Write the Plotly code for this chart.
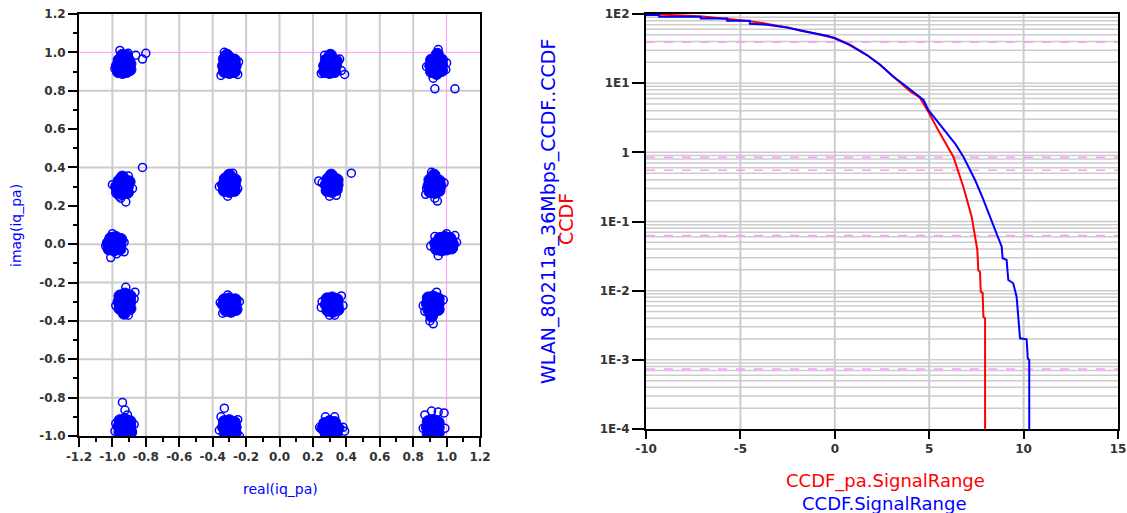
import numpy as np
import plotly.graph_objects as go

# ---------------- data: constellation (left) ----------------
# dense cluster cores (I, Q)
iq_core_i = [
    -0.965, -0.94, -0.915, -0.895, -0.97, -0.945, -0.92, -0.895, -0.96, -0.935, -0.905, -0.94, -0.915,
    -0.33, -0.30, -0.27, -0.335, -0.305, -0.265, -0.33, -0.30, -0.27, -0.315,
    0.27, 0.30, 0.33, 0.27, 0.30, 0.335, 0.28, 0.31, 0.34, 0.305,
    0.91, 0.94, 0.97, 0.905, 0.935, 0.97, 0.91, 0.94, 0.97, 0.945,
    -0.97, -0.94, -0.91, -0.975, -0.945, -0.91, -0.96, -0.93, -0.90, -0.94,
    -0.33, -0.30, -0.27, -0.335, -0.305, -0.27, -0.325, -0.295, -0.265, -0.30,
    0.285, 0.315, 0.34, 0.28, 0.31, 0.345, 0.29, 0.32, 0.345, 0.31,
    0.90, 0.93, 0.955, 0.895, 0.925, 0.96, 0.90, 0.93, 0.955, 0.925,
    -1.02, -0.99, -0.955, -1.025, -0.99, -0.955, -1.01, -0.98, -0.95,
    0.94, 0.97, 1.00, 1.03, 0.935, 0.965, 1.00, 1.035, 0.96, 0.99, 1.02,
    -0.955, -0.925, -0.895, -0.96, -0.93, -0.895, -0.955, -0.925, -0.895, -0.93,
    -0.33, -0.30, -0.265, -0.335, -0.30, -0.265, -0.32, -0.29, -0.26,
    0.285, 0.315, 0.345, 0.28, 0.31, 0.345, 0.29, 0.32, 0.35,
    0.89, 0.92, 0.95, 0.885, 0.915, 0.95, 0.895, 0.925, 0.95, 0.91,
    -0.955, -0.925, -0.895, -0.96, -0.93, -0.895, -0.955, -0.925, -0.89, -0.94,
    -0.33, -0.30, -0.27, -0.335, -0.30, -0.265, -0.325, -0.295, -0.265,
    0.27, 0.30, 0.33, 0.26, 0.29, 0.32, 0.35, 0.28, 0.31, 0.34,
    0.89, 0.92, 0.95, 0.885, 0.915, 0.95, 0.89, 0.92, 0.95,
]
iq_core_q = [
    0.90, 0.895, 0.90, 0.91, 0.93, 0.935, 0.93, 0.94, 0.96, 0.965, 0.96, 0.985, 0.98,
    0.90, 0.895, 0.90, 0.93, 0.935, 0.93, 0.965, 0.97, 0.96, 0.985,
    0.90, 0.895, 0.90, 0.93, 0.935, 0.93, 0.96, 0.965, 0.955, 0.985,
    0.90, 0.89, 0.905, 0.93, 0.935, 0.935, 0.96, 0.965, 0.96, 0.99,
    0.27, 0.265, 0.27, 0.30, 0.305, 0.30, 0.33, 0.335, 0.325, 0.35,
    0.28, 0.275, 0.28, 0.31, 0.315, 0.31, 0.34, 0.345, 0.335, 0.36,
    0.28, 0.275, 0.285, 0.31, 0.315, 0.31, 0.34, 0.345, 0.335, 0.36,
    0.275, 0.27, 0.28, 0.305, 0.31, 0.305, 0.335, 0.34, 0.33, 0.36,
    -0.025, -0.03, -0.025, 0.005, 0.0, 0.005, 0.03, 0.035, 0.025,
    -0.025, -0.03, -0.025, -0.02, 0.005, 0.0, 0.005, 0.0, 0.03, 0.035, 0.03,
    -0.27, -0.26, -0.27, -0.30, -0.305, -0.30, -0.335, -0.34, -0.335, -0.36,
    -0.29, -0.285, -0.29, -0.315, -0.32, -0.315, -0.345, -0.35, -0.34,
    -0.285, -0.28, -0.29, -0.315, -0.32, -0.315, -0.345, -0.35, -0.34,
    -0.28, -0.275, -0.285, -0.31, -0.315, -0.31, -0.345, -0.35, -0.34, -0.375,
    -0.92, -0.915, -0.925, -0.95, -0.955, -0.95, -0.98, -0.985, -0.98, -1.005,
    -0.925, -0.92, -0.93, -0.955, -0.96, -0.955, -0.985, -0.99, -0.985,
    -0.935, -0.925, -0.93, -0.96, -0.965, -0.96, -0.96, -0.99, -0.99, -0.985,
    -0.925, -0.92, -0.93, -0.955, -0.96, -0.955, -0.99, -0.99, -0.985,
]
# scattered outlying symbols (I, Q)
iq_out_i = [
    -0.955, -0.905, -0.82, -0.80, -0.86, -0.985,
    -0.35, -0.25, -0.245, -0.33,
    0.25, 0.37, 0.39, 0.36, 0.27,
    0.88, 0.95, 0.995, 0.92, 0.93, 1.05, 1.00,
    -1.00, -0.95, -0.92, -0.96, -0.88, -0.82, -0.905,
    -0.36, -0.25, -0.31, -0.28,
    0.255, 0.30, 0.34, 0.43, 0.235,
    0.88, 0.93, 0.945, 0.91, 0.985, 0.875,
    -1.04, -1.00, -0.93, -1.01, -0.975, -0.93,
    0.905, 1.06, 0.95, 1.00, 1.05, 0.93,
    -0.98, -0.92, -0.87, -0.865, -0.905,
    -0.355, -0.34, -0.24, -0.31,
    0.25, 0.255, 0.37, 0.30, 0.33, 0.38,
    0.86, 0.87, 0.90, 0.92, 0.98, 0.94,
    -0.94, -0.925, -0.98, -0.87, -0.91, -0.985,
    -0.33, -0.35, -0.25, -0.36, -0.24,
    0.24, 0.275, 0.38, 0.39, 0.33,
    0.87, 0.91, 0.95, 0.985, 0.86, 0.99,
]
iq_out_q = [
    1.01, 0.995, 0.965, 0.995, 0.985, 0.915,
    0.88, 0.885, 0.95, 1.00,
    0.89, 0.905, 0.885, 0.965, 0.985,
    0.925, 1.015, 0.91, 0.865, 0.81, 0.81, 0.945,
    0.31, 0.24, 0.22, 0.25, 0.29, 0.40, 0.355,
    0.30, 0.29, 0.25, 0.37,
    0.32, 0.25, 0.255, 0.37, 0.33,
    0.29, 0.24, 0.225, 0.375, 0.32, 0.26,
    -0.01, 0.055, -0.04, -0.07, -0.05, 0.01,
    -0.01, 0.01, -0.06, 0.055, 0.045, 0.04,
    -0.32, -0.225, -0.285, -0.25, -0.37,
    -0.305, -0.36, -0.30, -0.265,
    -0.33, -0.30, -0.27, -0.37, -0.37, -0.32,
    -0.32, -0.35, -0.40, -0.415, -0.29, -0.25,
    -0.825, -0.865, -0.935, -0.94, -0.89, -0.975,
    -0.855, -0.90, -0.915, -0.97, -1.00,
    -0.955, -0.90, -0.955, -0.975, -0.90,
    -0.89, -0.87, -0.875, -0.88, -0.96, -0.96,
]

# ---------------- data: CCDF (right) ----------------
ccdf_pa_range = [-10.0, -9.2, -8.0, -7.0, -5.6, -4.6, -3.7, -2.8, -1.8, -0.5, 0.0, 0.8, 1.7, 2.4,
                 3.1, 3.6, 4.0, 4.5, 4.95, 5.57, 6.28, 6.81, 7.25, 7.52, 7.55, 7.60, 7.69, 7.73,
                 7.83, 7.87, 7.96, 7.96]
ccdf_pa = [100, 98.5, 95, 92, 85, 79, 73, 66, 58.5, 48, 45, 36, 25.5, 18.5,
           12.4, 9.6, 7.6, 6.2, 3.87, 1.88, 0.864, 0.316, 0.1175, 0.0432, 0.0387, 0.0197, 0.0187, 0.0097,
           0.0093, 0.0042, 0.0040, 0.0001]
ccdf_range = [-10.0, -9.3, -9.3, -7.1, -7.1, -5.7, -5.7, -4.5, -4.5, -3.6, -2.5, -1.8, -0.4, 0.0,
              0.8, 1.7, 2.4, 3.1, 3.6, 4.0, 4.7, 4.95, 5.4, 5.93, 6.4, 6.81, 7.43, 7.8, 8.22, 8.55,
              8.84, 8.89, 9.10, 9.19, 9.45, 9.63, 9.72, 9.81, 10.16, 10.22, 10.30, 10.30]
ccdf = [96.7, 96.7, 91.5, 91.5, 86, 86, 80, 80, 72, 70, 64, 57.4, 48.5, 44.6,
        35.5, 25.5, 18.5, 12.4, 9.8, 7.96, 5.71, 4.10, 2.9, 1.88, 1.3, 0.864, 0.398, 0.23, 0.1175, 0.07,
        0.0432, 0.0294, 0.0278, 0.01427, 0.0128, 0.00818, 0.0042, 0.00205, 0.00198, 0.00105, 0.000995, 0.0001]

# ---------------- tick labels ----------------
left_x_ticks = [-1.2, -1.0, -0.8, -0.6, -0.4, -0.2, 0.0, 0.2, 0.4, 0.6, 0.8, 1.0, 1.2]
left_x_labels = ["-1.2", "-1.0", "-0.8", "-0.6", "-0.4", "-0.2", "0.0", "0.2", "0.4", "0.6", "0.8", "1.0", "1.2"]
left_y_ticks = [-1.0, -0.8, -0.6, -0.4, -0.2, 0.0, 0.2, 0.4, 0.6, 0.8, 1.0, 1.2]
left_y_labels = ["-1.0", "-0.8", "-0.6", "-0.4", "-0.2", "0.0", "0.2", "0.4", "0.6", "0.8", "1.0", "1.2"]
right_x_ticks = [-10, -5, 0, 5, 10, 15]
right_x_labels = ["-10", "-5", "0", "5", "10", "15"]
right_y_ticks = [1e-4, 1e-3, 1e-2, 1e-1, 1, 10, 100]
right_y_labels = ["1E-4", "1E-3", "1E-2", "1E-1", "1", "1E1", "1E2"]

# gridline positions
left_vgrid = [-1.0, -0.8, -0.6, -0.4, -0.2, 0.0, 0.2, 0.4, 0.6, 0.8]
left_hgrid = [0.8, 0.4, 0.0, -0.2, -0.4, -0.6, -0.8]
left_pink = 1.0
right_vgrid = [-5, 0, 5, 10]
right_pink = [39, 0.85, 0.55, 0.063, 7.4e-4]

W, H = 1127, 513
BLUE = "#0000ff"
RED = "#ff0000"
GRID = "#cccccc"
PINK = "#ff9cff"
TICKFONT = dict(family="DejaVu Sans", size=12, color="#333333", weight="bold")

fig = go.Figure()
fig.add_trace(go.Scatter(x=iq_core_i, y=iq_core_q, mode="markers", xaxis="x", yaxis="y",
                         marker=dict(symbol="circle", size=12, color=BLUE,
                                     line=dict(color=BLUE, width=1)),
                         showlegend=False, hoverinfo="skip"))
fig.add_trace(go.Scatter(x=iq_out_i, y=iq_out_q, mode="markers", xaxis="x", yaxis="y",
                         marker=dict(symbol="circle-open", size=8, color=BLUE,
                                     line=dict(color=BLUE, width=1.5)),
                         showlegend=False, hoverinfo="skip"))
fig.add_trace(go.Scatter(x=ccdf_pa_range, y=ccdf_pa, mode="lines", xaxis="x2", yaxis="y2",
                         line=dict(color=RED, width=2), showlegend=False))
fig.add_trace(go.Scatter(x=ccdf_range, y=ccdf, mode="lines", xaxis="x2", yaxis="y2",
                         line=dict(color=BLUE, width=2), showlegend=False))

shapes = []
for v in left_vgrid:
    shapes.append(dict(type="line", xref="x", yref="y", x0=v, x1=v, y0=-1.0, y1=1.2,
                       line=dict(color=GRID, width=2), layer="below"))
for v in left_hgrid:
    shapes.append(dict(type="line", xref="x", yref="y", x0=-1.2, x1=1.2, y0=v, y1=v,
                       line=dict(color=GRID, width=2), layer="below"))
shapes.append(dict(type="line", xref="x", yref="y", x0=left_pink, x1=left_pink, y0=-1.0, y1=1.2,
                   line=dict(color=PINK, width=1), layer="below"))
shapes.append(dict(type="line", xref="x", yref="y", x0=-1.2, x1=1.2, y0=left_pink, y1=left_pink,
                   line=dict(color=PINK, width=1), layer="below"))

for v in right_vgrid:
    shapes.append(dict(type="line", xref="x2", yref="y2", x0=v, x1=v, y0=1e-4, y1=100,
                       line=dict(color=GRID, width=2), layer="below"))
for dec in range(-4, 2):
    for k in range(1, 10):
        val = k * 10.0 ** dec
        if dec == -4 and k == 1:
            continue
        shapes.append(dict(type="line", xref="x2", yref="y2", x0=-10, x1=15, y0=val, y1=val,
                           line=dict(color=GRID, width=1.5), layer="below"))
for v in right_pink:
    shapes.append(dict(type="line", xref="x2", yref="y2", x0=-10, x1=15, y0=v, y1=v,
                       line=dict(color=PINK, width=1.5, dash="dash"), layer="below"))

minor_left_x = [round(v, 2) for v in np.arange(-1.1, 1.2, 0.2)]
minor_left_y = [round(v, 2) for v in np.arange(-0.9, 1.2, 0.2)]

axis_common = dict(showgrid=False, zeroline=False, showline=True, linecolor="black",
                   linewidth=2, mirror=True, ticks="outside", tickcolor="black",
                   tickwidth=1.5, tickfont=TICKFONT, automargin=False)

fig.update_layout(
    width=W, height=H, autosize=False,
    margin=dict(l=0, r=0, t=0, b=0, pad=0),
    paper_bgcolor="white", plot_bgcolor="white",
    xaxis=dict(domain=[79 / W, 480 / W], range=[-1.2, 1.2], anchor="y",
               tickmode="array", tickvals=left_x_ticks, ticktext=left_x_labels, ticklen=9,
               minor=dict(tickmode="array", tickvals=minor_left_x, ticks="outside", ticklen=4,
                          tickcolor="black", tickwidth=1.5, showgrid=False),
               **axis_common),
    yaxis=dict(domain=[(H - 436) / H, (H - 14) / H], range=[-1.0, 1.2], anchor="x",
               tickmode="array", tickvals=left_y_ticks, ticktext=left_y_labels, ticklen=9,
               minor=dict(tickmode="array", tickvals=minor_left_y, ticks="outside", ticklen=4,
                          tickcolor="black", tickwidth=1.5, showgrid=False),
               **axis_common),
    xaxis2=dict(domain=[646 / W, 1118 / W], range=[-10, 15], anchor="y2",
                tickmode="array", tickvals=right_x_ticks, ticktext=right_x_labels, ticklen=8,
                **axis_common),
    yaxis2=dict(domain=[(H - 429) / H, (H - 14) / H], type="log", range=[-4, 2], anchor="x2",
                tickmode="array", tickvals=right_y_ticks, ticktext=right_y_labels, ticklen=12,
                **axis_common),
    shapes=shapes,
)

def ann(text, px, py, color, size, angle=0):
    return dict(text=text, x=px / W, y=1 - py / H, xref="paper", yref="paper",
                xanchor="center", yanchor="middle", showarrow=False, textangle=angle,
                font=dict(family="DejaVu Sans", size=size, color=color))

fig.update_layout(annotations=[
    ann("imag(iq_pa)", 16, 226, BLUE, 14, -90),
    ann("real(iq_pa)", 280, 489, BLUE, 14),
    ann("WLAN_80211a_36Mbps_CCDF..CCDF", 548, 212, BLUE, 19, -90),
    ann("CCDF", 566, 219, RED, 19, -90),
    ann("CCDF_pa.SignalRange", 885, 481, RED, 18),
    ann("CCDF.SignalRange", 884, 503, BLUE, 18),
])

fig.write_html("out.html")
